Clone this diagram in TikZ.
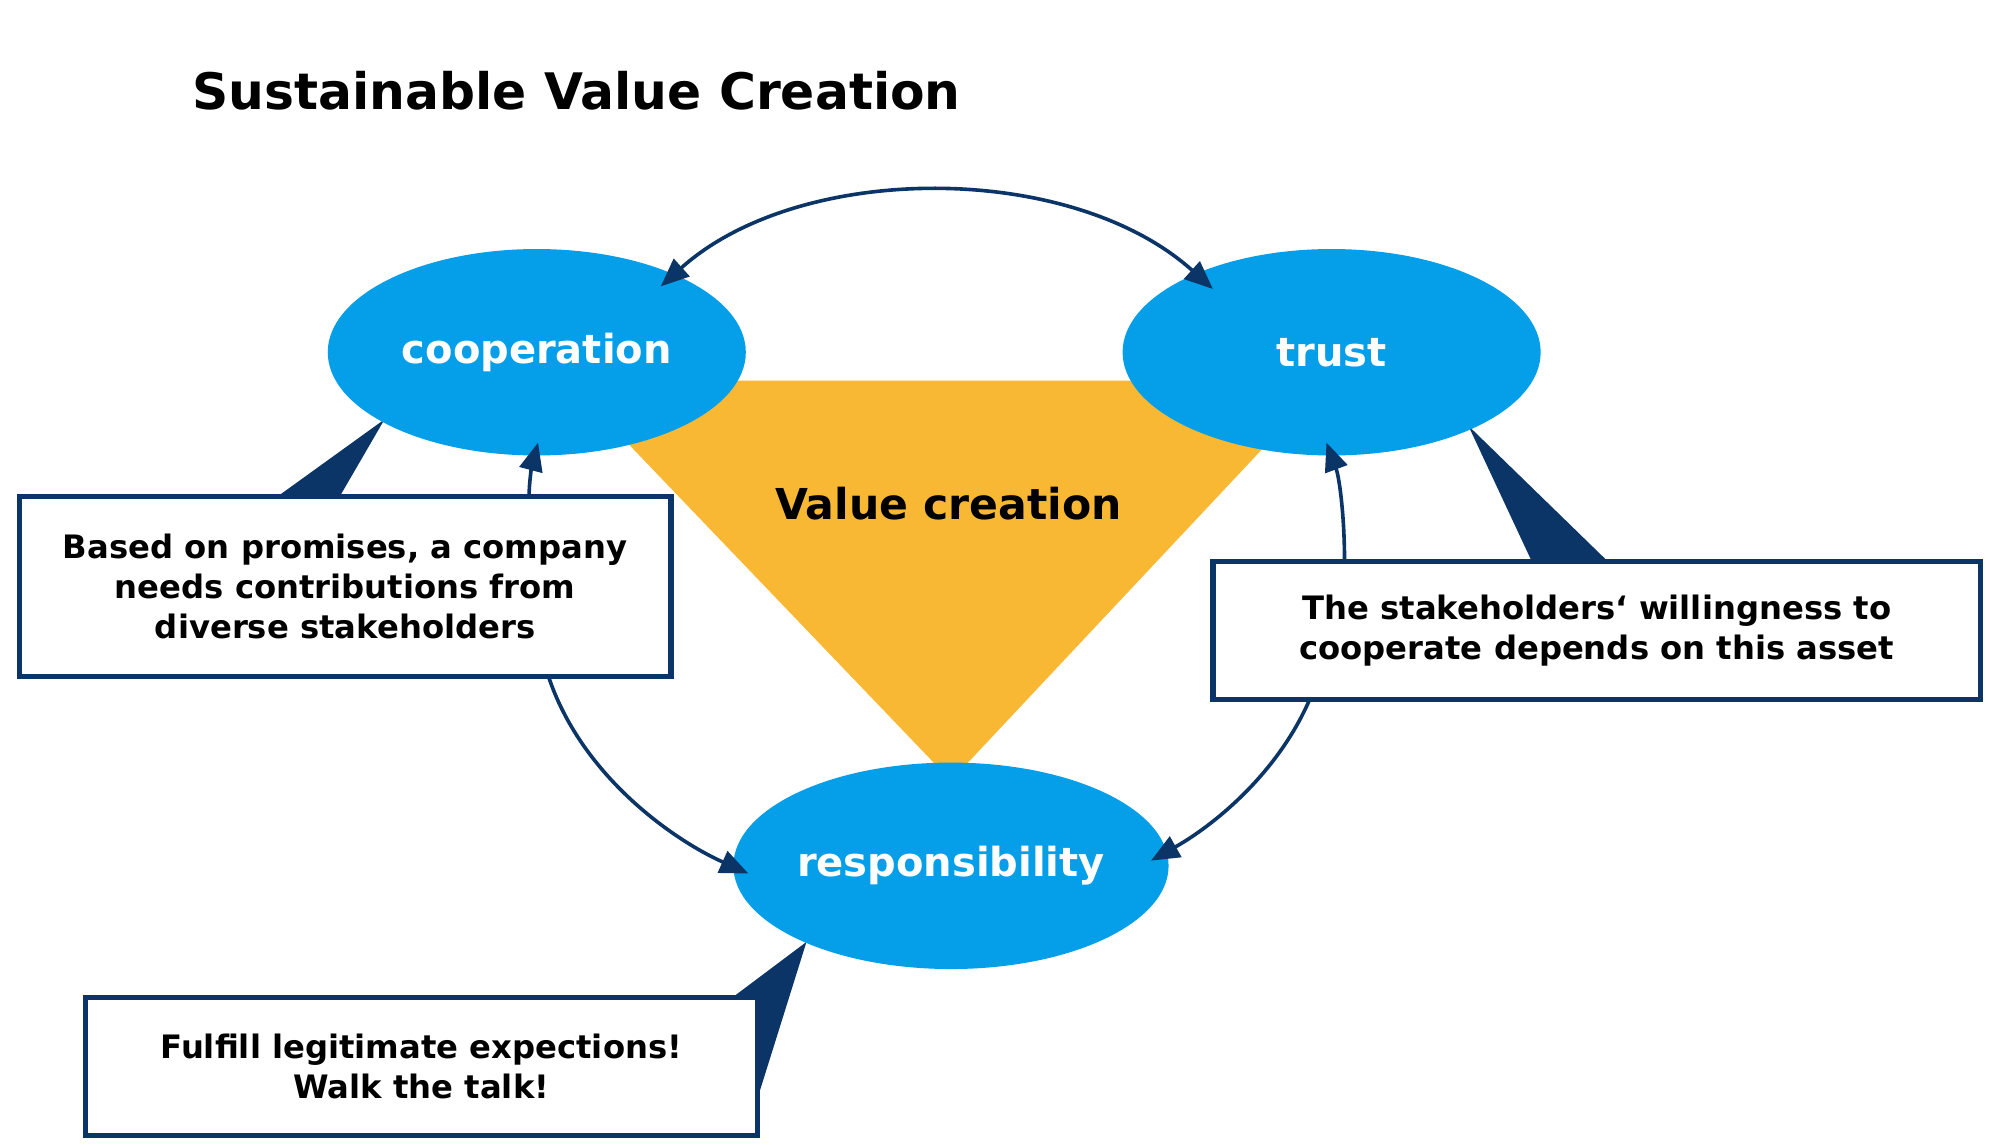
\documentclass[tikz,border=0pt]{standalone}
\usepackage{fontspec}
\setmainfont{DejaVu Sans}
\usetikzlibrary{arrows.meta,shapes.geometric}
\definecolor{navy}{HTML}{0B3566}
\definecolor{sky}{HTML}{049FE8}
\definecolor{gold}{HTML}{F8B833}
\begin{document}
\begin{tikzpicture}[x=0.5pt,y=-0.5pt,
  ell/.style={ellipse,fill=sky,minimum width=324\unitlen,minimum height=160\unitlen,text=white,font=\bfseries\fontsize{15.5}{18}\selectfont,inner sep=0},
  note/.style={draw=navy,line width=2pt,fill=white,font=\bfseries\fontsize{12.5}{15.5}\selectfont,align=center,inner sep=0},
  arr/.style={draw=navy,line width=1.4pt,-{Triangle[length=11pt,width=9pt]}},
  wedge/.style={fill=navy}]
\newlength{\unitlen}\setlength{\unitlen}{0.5pt}
\useasboundingbox (0,0) rectangle (1550,887);
\fill[white] (0,0) rectangle (1550,887);
\node[anchor=west,font=\bfseries\fontsize{19.5}{23}\selectfont] (title) at (142,70) {Sustainable Value Creation};
\fill[gold] (440,295) -- (1028,295) -- (737,605) -- cycle;
\node[font=\bfseries\fontsize{16.5}{20}\selectfont] (vc) at (735,390) {Value creation};
% callout wedges
\fill[wedge] (298,325) -- (212,387) -- (262,387) -- cycle;
\fill[wedge] (1138,330) -- (1188,437) -- (1248,437) -- cycle;
\fill[wedge] (625,730) -- (565,775) -- (589,845) -- cycle;
\node[ell] (coop) at (416,273) {cooperation};
\node[ell] (trust) at (1032,273) {trust};
\node[ell] (resp) at (737,671) {responsibility};
\node[note,minimum width=505\unitlen,minimum height=139\unitlen] (bl) at (267.5,454.5) {Based on promises, a company\\needs contributions from\\diverse stakeholders};
\node[note,minimum width=595\unitlen,minimum height=107\unitlen] (br) at (1237.5,488.5) {The stakeholders‘ willingness to\\cooperate depends on this asset};
\node[note,minimum width=521\unitlen,minimum height=107\unitlen] (bb) at (326.5,826.5) {Fulfill legitimate expections!\\Walk the talk!};
% arrows
\draw[arr,{Triangle[length=11pt,width=9pt]}-{Triangle[length=11pt,width=9pt]}] (512,222) .. controls (620,125) and (830,125) .. (940,224);
\draw[arr] (410,385) .. controls (410,375) and (412,362) .. (417,343);
\draw[arr] (425,524) .. controls (450,600) and (520,650) .. (580,677);
\draw[arr] (1042,435) .. controls (1042,400) and (1038,370) .. (1028,343);
\draw[arr] (1015,542) .. controls (990,600) and (940,640) .. (892,667);
\end{tikzpicture}
\end{document}
